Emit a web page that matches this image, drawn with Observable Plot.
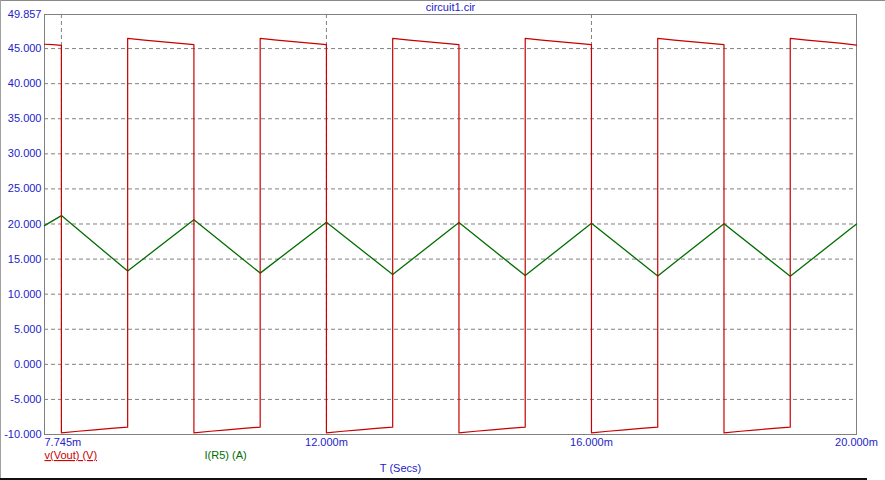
<!DOCTYPE html>
<html>
<head>
<meta charset="utf-8">
<script src="https://cdn.jsdelivr.net/npm/d3@7"></script>
<script src="https://cdn.jsdelivr.net/npm/@observablehq/plot@0.6"></script>
<style>
  html, body { margin: 0; padding: 0; background: #fff; }
  #wrap { position: relative; width: 885px; height: 480px; overflow: hidden; }
  .edge { position: absolute; }
</style>
</head>
<body>
<div id="wrap"></div>
<script>
// ---- data (time in ms) ----
const title = "circuit1.cir";
const xDomain = [7.745, 20];
const yDomain = [-10, 49.857];
const yTicks = [-10, -5, 0, 5, 10, 15, 20, 25, 30, 35, 40, 45, 49.857];
const yGrid = [-5, 0, 5, 10, 15, 20, 25, 30, 35, 40, 45];
const xGrid = [8, 12, 16];
const xTickLabels = ["7.745m", "12.000m", "16.000m", "20.000m"];
const xTickValues = [7.745, 12, 16, 20];

// v(Vout) square wave
const voutT = [
  7.745, 7.87, 8.0,
  8.0, 8.25, 8.5, 8.75, 9.0,
  9.0, 9.25, 9.5, 9.75, 10.0,
  10.0, 10.25, 10.5, 10.75, 11.0,
  11.0, 11.25, 11.5, 11.75, 12.0,
  12.0, 12.25, 12.5, 12.75, 13.0,
  13.0, 13.25, 13.5, 13.75, 14.0,
  14.0, 14.25, 14.5, 14.75, 15.0,
  15.0, 15.25, 15.5, 15.75, 16.0,
  16.0, 16.25, 16.5, 16.75, 17.0,
  17.0, 17.25, 17.5, 17.75, 18.0,
  18.0, 18.25, 18.5, 18.75, 19.0,
  19.0, 19.25, 19.5, 19.75, 20.0
];
const voutV = [
  45.62, 45.56, 45.45,
  -9.76, -9.54, -9.33, -9.14, -8.95,
  46.45, 46.20, 45.98, 45.77, 45.55,
  -9.76, -9.54, -9.33, -9.14, -8.95,
  46.45, 46.20, 45.98, 45.77, 45.55,
  -9.76, -9.54, -9.33, -9.14, -8.95,
  46.45, 46.20, 45.98, 45.77, 45.55,
  -9.76, -9.54, -9.33, -9.14, -8.95,
  46.45, 46.20, 45.98, 45.77, 45.55,
  -9.76, -9.54, -9.33, -9.14, -8.95,
  46.45, 46.20, 45.98, 45.77, 45.55,
  -9.76, -9.54, -9.33, -9.14, -8.95,
  46.45, 46.20, 45.98, 45.77, 45.50
];

// I(R5) triangle wave
const iT = [7.745, 8, 9, 10, 11, 12, 13, 14, 15, 16, 17, 18, 19, 20];
const iV = [19.76, 21.2, 13.3, 20.6, 13.0, 20.25, 12.8, 20.2, 12.65, 20.1, 12.6, 20.05, 12.55, 20.0];

const legend1 = "v(Vout) (V)";
const legend2 = "I(R5) (A)";
const xLabel = "T (Secs)";

// ---- build tables ----
const vout = voutT.map((t, i) => ({t, v: voutV[i]}));
const cur = iT.map((t, i) => ({t, v: iV[i]}));
const xt = xTickValues.map((t, i) => ({t, label: xTickLabels[i]}));

const BLUE = "#2323c8";
const RED = "#c80000";
const GREEN = "#006e00";
const GRID = "#808080";

const chart = Plot.plot({
  width: 885,
  height: 480,
  marginLeft: 44,
  marginRight: 29,
  marginTop: 14,
  marginBottom: 46,
  style: {fontFamily: "'Liberation Sans', Arial, sans-serif", fontSize: "11px", background: "#fff", overflow: "visible"},
  x: {domain: xDomain, axis: null},
  y: {domain: yDomain, axis: null},
  marks: [
    Plot.gridY(yGrid, {stroke: GRID, strokeOpacity: 1, strokeDasharray: "4,3"}),
    Plot.gridX(xGrid, {stroke: GRID, strokeOpacity: 1, strokeDasharray: "4,3"}),
    Plot.frame({stroke: GRID, strokeWidth: 1}),
    Plot.axisY(yTicks, {tickSize: 0, tickPadding: 3, fill: BLUE, fontSize: 11, label: null, tickFormat: d => d.toFixed(3)}),
    Plot.line(cur, {x: "t", y: "v", stroke: GREEN, strokeWidth: 1.3}),
    Plot.line(vout, {x: "t", y: "v", stroke: RED, strokeWidth: 1.2, curve: "linear"}),
    Plot.text(xt.slice(0, 1), {x: "t", text: "label", frameAnchor: "bottom", dy: 8, lineAnchor: "middle", textAnchor: "start", fill: BLUE, fontSize: 11}),
    Plot.text(xt.slice(1, 3), {x: "t", text: "label", frameAnchor: "bottom", dy: 8, lineAnchor: "middle", textAnchor: "middle", fill: BLUE, fontSize: 11}),
    Plot.text(xt.slice(3), {x: "t", text: "label", frameAnchor: "bottom", dy: 8, lineAnchor: "middle", textAnchor: "middle", fill: BLUE, fontSize: 11}),
    Plot.text([title], {frameAnchor: "top", dy: -7, lineAnchor: "middle", fill: BLUE, fontSize: 11}),
    Plot.text([legend1], {frameAnchor: "bottom-left", dy: 21, lineAnchor: "middle", textAnchor: "start", fill: RED, fontSize: 11}),
    Plot.text([legend2], {frameAnchor: "bottom-left", dx: 160, dy: 21, lineAnchor: "middle", textAnchor: "start", fill: GREEN, fontSize: 11}),
    Plot.text([xLabel], {frameAnchor: "bottom", dx: -50, dy: 34, lineAnchor: "middle", fill: BLUE, fontSize: 11})
  ]
});

d3.select(chart).selectAll("text").filter(function() { return this.textContent === legend1; })
  .attr("text-decoration", "underline");

const wrap = document.getElementById("wrap");
wrap.appendChild(chart);
// window frame edges
const edges = [
  {left: 0, top: 0, width: 885, height: 1, bg: "#8a8a8a"},
  {left: 0, top: 0, width: 1, height: 480, bg: "#a0a0a0"},
  {left: 0, top: 478, width: 867, height: 2, bg: "#111"}
];
for (const e of edges) {
  const d = document.createElement("div");
  d.className = "edge";
  Object.assign(d.style, {left: e.left + "px", top: e.top + "px", width: e.width + "px", height: e.height + "px", background: e.bg});
  wrap.appendChild(d);
}
</script>
</body>
</html>
